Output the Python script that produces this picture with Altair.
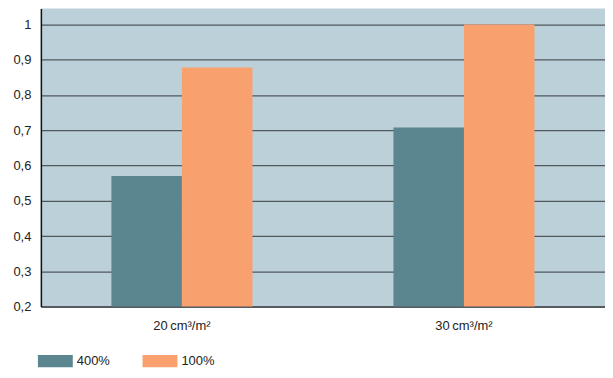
import altair as alt
import pandas as pd

groups = ["20\u2009cm³/m²", "30\u2009cm³/m²"]
series = ["400%", "100%"]
values_400 = [0.57, 0.708]
values_100 = [0.878, 1.0]
y_ticks = [0.2, 0.3, 0.4, 0.5, 0.6, 0.7, 0.8, 0.9, 1.0]
colors = ["#5b868f", "#f8a06e"]

rows = []
for g, v in zip(groups, values_400):
    rows.append({"group": g, "series": "400%", "value": v})
for g, v in zip(groups, values_100):
    rows.append({"group": g, "series": "100%", "value": v})
df = pd.DataFrame(rows)

font = "Liberation Sans"

chart = alt.Chart(df).mark_bar(clip=True).encode(
    x=alt.X("group:N", sort=groups, title=None,
            scale=alt.Scale(paddingInner=0.5, paddingOuter=0.25),
            axis=alt.Axis(labelAngle=0, ticks=False, domainColor="#555b60", domainWidth=2,
                          labelFontSize=13, labelColor="#222", labelFont=font, labelPadding=13)),
    xOffset=alt.XOffset("series:N", sort=series),
    y=alt.Y("value:Q", title=None,
            scale=alt.Scale(domain=[0.2, 1.045], nice=False, zero=False),
            axis=alt.Axis(values=y_ticks, labelExpr="replace(format(datum.value, '.1~f'), '.', ',')",
                          ticks=False, domainColor="#111", domainWidth=1.5,
                          grid=True, gridColor="#50575d", gridWidth=1.3,
                          labelFontSize=13, labelColor="#222", labelFont=font, labelPadding=10)),
    color=alt.Color("series:N", sort=series,
                    scale=alt.Scale(domain=series, range=colors),
                    legend=alt.Legend(title=None, orient="none", direction="horizontal",
                                      legendX=-3, legendY=336, padding=0,
                                      symbolType="M-1,-0.35H1V0.35H-1Z", symbolSize=1225,
                                      symbolStrokeWidth=0, symbolOpacity=1,
                                      labelFontSize=13, labelFont=font, labelColor="#222",
                                      labelOffset=4, columnPadding=32)),
).properties(
    width=566, height=299,
    background="white",
    padding={"left": 33, "top": 0, "right": 0, "bottom": 63},
    autosize=alt.AutoSizeParams(type="none"),
).configure_view(
    fill="#bcd0d9", stroke=None
)

chart.save("out.html", embed_options={"renderer": "svg", "actions": False})
